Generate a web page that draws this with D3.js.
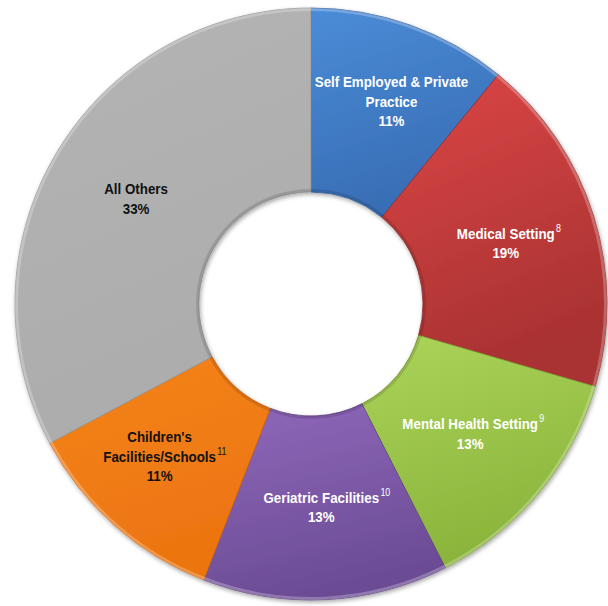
<!DOCTYPE html>
<html>
<head>
<meta charset="utf-8">
<script src="https://cdn.jsdelivr.net/npm/d3@7"></script>
<style>
  body { margin: 0; background: #fff; }
  svg { display: block; }
</style>
</head>
<body>
<svg></svg>
<script>
const svgWidth = 608
const svgHeight = 606

// slices, clockwise from 12 o'clock
const categories = ["Self Employed & Private Practice", "Medical Setting", "Mental Health Setting", "Geriatric Facilities", "Children's Facilities/Schools", "All Others"]
const shares = [10.9, 18.6, 13.0, 13.4, 11.3, 32.8]
const pctLabels = ["11%", "19%", "13%", "13%", "11%", "33%"]
const labelLines = [["Self Employed & Private", "Practice"], ["Medical Setting"], ["Mental Health Setting"], ["Geriatric Facilities"], ["Children's", "Facilities/Schools"], ["All Others"]]
const footnotes = ["", "8", "9", "10", "11", ""]

const topColors = ["#4b8cd8", "#dc4646", "#acd45a", "#9068bb", "#f5841c", "#b4b4b4"]
const bottomColors = ["#386db4", "#a93232", "#8ab43b", "#6c4c95", "#ec7410", "#acacac"]
const textColors = ["#fff", "#fff", "#fff", "#fff", "#111", "#111"]

const cx = 311, cy = 304
const outerR = 296, innerR = 112
const lineH = 19.5
// small nudges where the original label sits off the centroid
const nudge = [[12, -10], [0, 0], [2, 0], [0, 0], [-16, 0], [0, 0]]

const svg = d3.select("svg")
  .attr("width", svgWidth)
  .attr("height", svgHeight)

const defs = svg.append("defs")
categories.forEach((c, i) => {
  const g = defs.append("linearGradient")
    .attr("id", "grad" + i)
    .attr("x1", 0).attr("y1", 0).attr("x2", 0.3).attr("y2", 1)
  g.append("stop").attr("offset", "0%").attr("stop-color", topColors[i])
  g.append("stop").attr("offset", "100%").attr("stop-color", bottomColors[i])
})

const shadow = defs.append("filter").attr("id", "shadow")
  .attr("x", "-10%").attr("y", "-10%").attr("width", "120%").attr("height", "120%")
shadow.append("feDropShadow")
  .attr("dx", 1).attr("dy", 2).attr("stdDeviation", 2)
  .attr("flood-color", "#000").attr("flood-opacity", 0.35)

const pie = d3.pie().sort(null).value(d => d)
const arcs = pie(shares)

const arc = d3.arc().innerRadius(innerR).outerRadius(outerR)
const rimOuter = d3.arc().innerRadius(outerR - 3).outerRadius(outerR)
const rimInner = d3.arc().innerRadius(innerR).outerRadius(innerR + 3)

const chart = svg.append("g").attr("transform", `translate(${cx},${cy})`)

const slices = chart.append("g").attr("filter", "url(#shadow)")
slices.selectAll("path.slice")
  .data(arcs)
  .enter()
  .append("path")
  .attr("class", "slice")
  .attr("d", arc)
  .attr("fill", (d, i) => `url(#grad${i})`)
  .attr("stroke", (d, i) => d3.color(bottomColors[i]).darker(0.4))
  .attr("stroke-width", 0.8)

// soft bevel highlight on the outer rim and shade on the inner rim
chart.selectAll("path.rimo")
  .data(arcs)
  .enter()
  .append("path")
  .attr("d", rimOuter)
  .attr("fill", "#fff")
  .attr("opacity", 0.25)
chart.selectAll("path.rimi")
  .data(arcs)
  .enter()
  .append("path")
  .attr("d", rimInner)
  .attr("fill", "#000")
  .attr("opacity", 0.12)

const labels = chart.selectAll("g.label")
  .data(arcs)
  .enter()
  .append("g")
  .attr("class", "label")
  .attr("transform", (d, i) => {
    const c = arc.centroid(d)
    return `translate(${c[0] + nudge[i][0]},${c[1] + nudge[i][1]}) scale(0.89,1)`
  })

labels.each(function (d, i) {
  const g = d3.select(this)
  const lines = labelLines[i].concat([pctLabels[i]])
  const y0 = -(lines.length - 1) * lineH / 2 + 5
  lines.forEach((ln, k) => {
    const t = g.append("text")
      .attr("x", 0)
      .attr("y", y0 + k * lineH)
      .attr("text-anchor", "middle")
      .attr("font-family", "'Liberation Sans', Arial, sans-serif")
      .attr("font-size", 15)
      .attr("font-weight", "bold")
      .attr("fill", textColors[i])
      .text(ln)
    // footnote marker goes after the last name line
    if (footnotes[i] && k === labelLines[i].length - 1) {
      const w = t.node().getComputedTextLength()
      g.append("text")
        .attr("x", w / 2 + 1.5)
        .attr("y", y0 + k * lineH - 7)
        .attr("font-family", "'Liberation Sans', Arial, sans-serif")
        .attr("font-size", 10)
        .attr("fill", textColors[i])
        .text(footnotes[i])
    }
  })
})
</script>
</body>
</html>
